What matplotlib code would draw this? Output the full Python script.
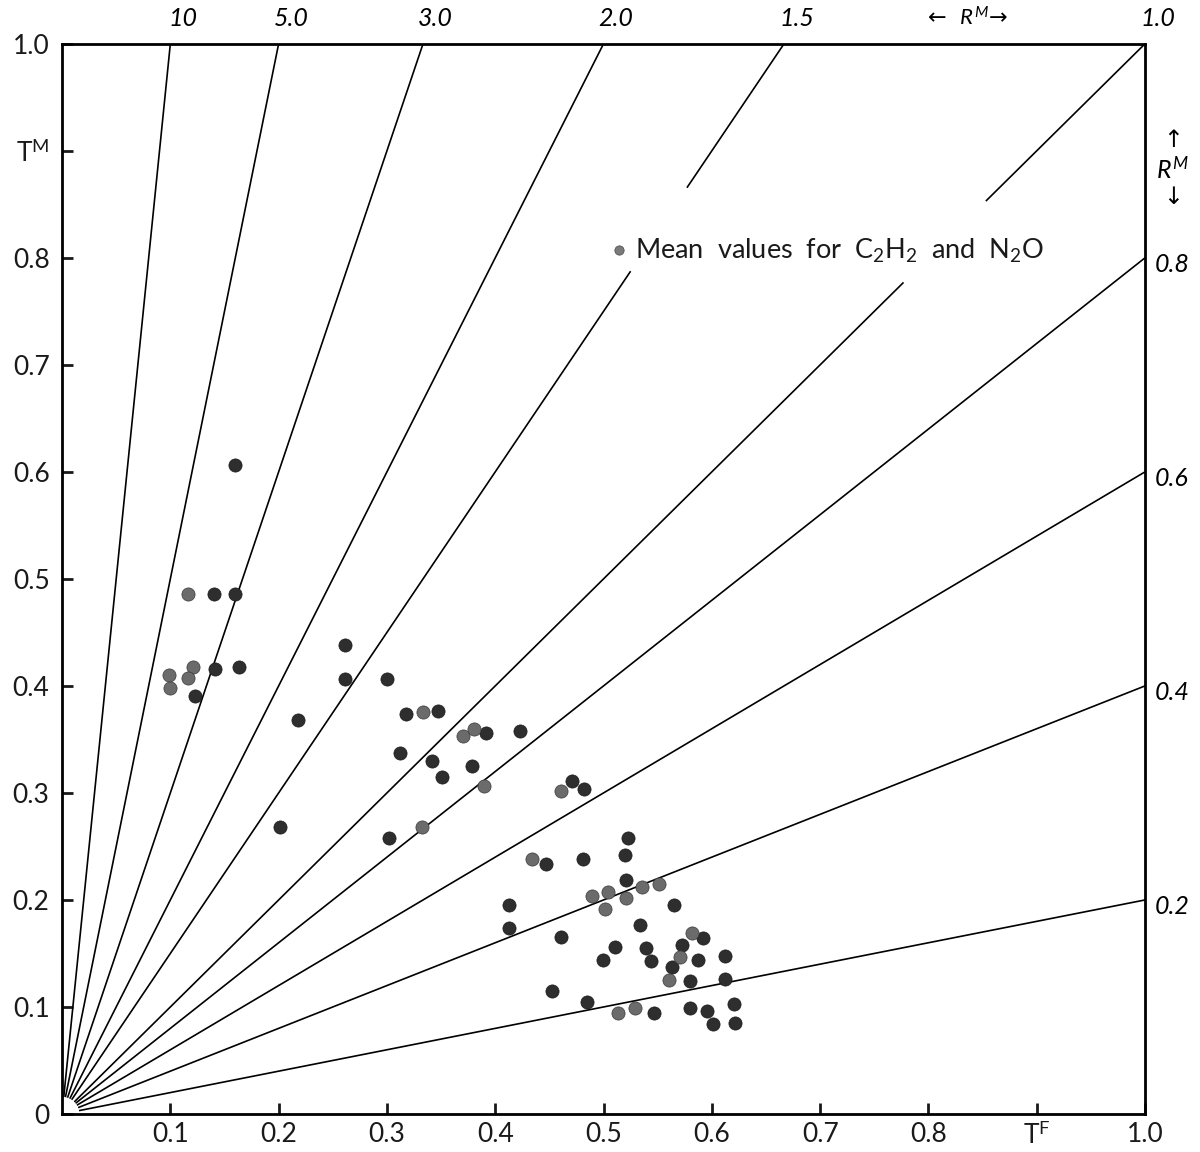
import matplotlib
matplotlib.use("Agg")
import matplotlib.pyplot as plt
import numpy as np

plt.rcParams['font.family'] = ['Lato', 'DejaVu Sans']
plt.rcParams['mathtext.fontset'] = 'custom'
plt.rcParams['mathtext.rm'] = 'Lato'
plt.rcParams['mathtext.it'] = 'Lato:italic'

# Ratio lines R^M = T^M / T^F
ratios = [10, 5.0, 3.0, 2.0, 1.5, 1.0, 0.8, 0.6, 0.4, 0.2]
top_labels = ["10", "5.0", "3.0", "2.0", "1.5", "1.0"]
right_labels = ["0.8", "0.6", "0.4", "0.2"]

# individual points (dark)
dark_tf = [0.160, 0.140, 0.160, 0.163, 0.141, 0.123,
           0.2616, 0.2616, 0.300, 0.218, 0.318, 0.3475, 0.3915, 0.4227,
           0.3123, 0.3417, 0.3785, 0.351, 0.2016, 0.3018,
           0.4712, 0.4824, 0.4465, 0.4811, 0.4125, 0.4125, 0.4604, 0.4527, 0.4845,
           0.5225, 0.520, 0.5207, 0.5652, 0.5337, 0.5108, 0.5393, 0.4997, 0.5436,
           0.5918, 0.5727, 0.5872, 0.6125, 0.5631, 0.5795, 0.612,
           0.547, 0.580, 0.5955, 0.6206, 0.601, 0.6212]
dark_tm = [0.606, 0.486, 0.486, 0.418, 0.416, 0.391,
           0.438, 0.406, 0.4066, 0.3685, 0.3738, 0.377, 0.3558, 0.358,
           0.3374, 0.3296, 0.3252, 0.3153, 0.268, 0.258,
           0.3112, 0.3037, 0.234, 0.2381, 0.1953, 0.1735, 0.1654, 0.115, 0.105,
           0.2577, 0.242, 0.2187, 0.1953, 0.1766, 0.1558, 0.1555, 0.1436, 0.143,
           0.164, 0.158, 0.1439, 0.1477, 0.1377, 0.1243, 0.1262,
           0.0942, 0.0988, 0.0966, 0.1028, 0.0841, 0.0848]

# mean values for C2H2 and N2O (grey)
mean_tf = [0.1166, 0.121, 0.116, 0.0987, 0.100,
           0.3333, 0.3698, 0.380, 0.3896, 0.3327,
           0.4604, 0.4344, 0.489, 0.5037, 0.5015, 0.5207, 0.5355, 0.551,
           0.5813, 0.5708, 0.560, 0.513, 0.5294]
mean_tm = [0.486, 0.418, 0.407, 0.410, 0.398,
           0.376, 0.353, 0.360, 0.3065, 0.268,
           0.3016, 0.2386, 0.204, 0.2078, 0.1913, 0.2016, 0.2125, 0.2147,
           0.169, 0.147, 0.125, 0.0942, 0.0988]

fig = plt.figure(figsize=(12, 11.52), dpi=100)
ax = fig.add_axes([0.0517, 0.033, 0.9025, 0.929])
ax.set_xlim(0, 1.0)
ax.set_ylim(0, 1.0)

# gaps where lines pass behind the legend text (T^F range)
gaps = {1.5: (0.525, 0.577), 1.0: (0.777, 0.853)}

for R in ratios:
    r0 = 0.016
    t0 = r0 / np.sqrt(1 + R * R)
    t1 = 1.0 / R if R >= 1 else 1.0
    if R in gaps:
        g0, g1 = gaps[R]
        segs = [(t0, g0), (g1, t1)]
    else:
        segs = [(t0, t1)]
    for a, b in segs:
        ax.plot([a, b], [R * a, R * b], color='black', lw=1.2,
                solid_capstyle='butt', zorder=2)

ax.scatter(dark_tf, dark_tm, s=90, color='#2e2e2e', edgecolors='#1a1a1a',
           linewidths=0.5, zorder=3)
ax.scatter(mean_tf, mean_tm, s=90, color='#6b6b6b', edgecolors='#3a3a3a',
           linewidths=0.5, zorder=3)

# legend
ax.scatter([0.514], [0.807], s=45, color='#7a7a7a', edgecolors='#4a4a4a',
           linewidths=0.5, zorder=3, clip_on=False)
ax.text(0.529, 0.806, r"Mean  values  for  C$_2$H$_2$  and  N$_2$O",
        fontsize=19.5, va='center', ha='left', color='#1a1a1a')

# spines
for sp in ax.spines.values():
    sp.set_linewidth(2.0)

# ticks
xt = [0.1, 0.2, 0.3, 0.4, 0.5, 0.6, 0.7, 0.8, 0.9, 1.0]
xl = ["0.1", "0.2", "0.3", "0.4", "0.5", "0.6", "0.7", "0.8", r"T$^{\mathrm{F}}$", "1.0"]
yt = [0.0, 0.1, 0.2, 0.3, 0.4, 0.5, 0.6, 0.7, 0.8, 0.9, 1.0]
yl = ["0", "0.1", "0.2", "0.3", "0.4", "0.5", "0.6", "0.7", "0.8", r"T$^{\mathrm{M}}$", "1.0"]
ax.set_xticks(xt)
ax.set_xticklabels(xl)
ax.set_yticks(yt)
ax.set_yticklabels(yl)
ax.tick_params(axis='both', direction='in', length=8, width=2.0,
               labelsize=19, colors='#1a1a1a')
ax.tick_params(axis='x', pad=6)
ax.tick_params(axis='y', pad=9)

# top labels for ratio lines
for R, lab in zip(ratios[:6], top_labels):
    ax.annotate(lab, xy=(1.0 / R, 1.0), xytext=(9, 10),
                textcoords='offset points', ha='center', va='bottom',
                fontsize=18, style='italic', annotation_clip=False)
ax.annotate(r"←  $\mathit{R}^{\mathit{M}}$→", xy=(0.836, 1.0), xytext=(0, 10),
            textcoords='offset points', ha='center', va='bottom',
            fontsize=16, style='italic', family=['DejaVu Sans'],
            annotation_clip=False)

# right labels
for R, lab in zip(ratios[6:], right_labels):
    ax.annotate(lab, xy=(1.0, R), xytext=(7, -5), textcoords='offset points',
                ha='left', va='center', fontsize=18, style='italic',
                annotation_clip=False)
ax.annotate("↑", xy=(1.0, 0.91), xytext=(13, 0), textcoords='offset points',
            ha='left', va='center', fontsize=17, family=['DejaVu Sans'],
            annotation_clip=False)
ax.annotate(r"$\mathit{R}^{\mathit{M}}$", xy=(1.0, 0.883), xytext=(8, 0),
            textcoords='offset points', ha='left', va='center', fontsize=18,
            annotation_clip=False)
ax.annotate("↓", xy=(1.0, 0.857), xytext=(13, 0), textcoords='offset points',
            ha='left', va='center', fontsize=17, family=['DejaVu Sans'],
            annotation_clip=False)

fig.savefig("out.png", dpi=100, facecolor='white')
